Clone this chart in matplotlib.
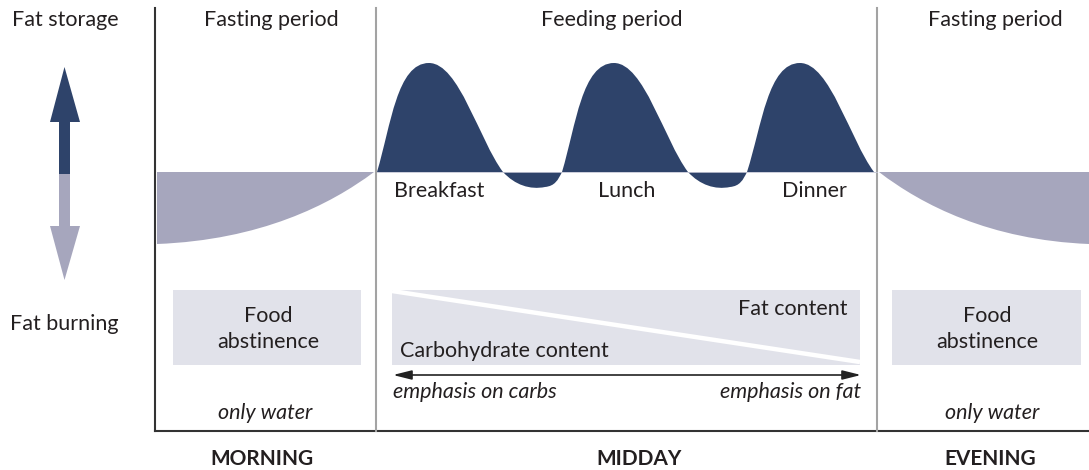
import matplotlib
matplotlib.use("Agg")
import matplotlib.pyplot as plt
from matplotlib.path import Path
from matplotlib.patches import PathPatch, Rectangle

plt.rcParams['font.family'] = ['Lato', 'DejaVu Sans']

NAVY = '#2E436A'
LAVENDER = '#A6A6BD'
BOXGREY = '#E1E2EA'
TEXT = '#231F20'
FS = 15.5

# layout values (pixel grid of the original)
baseline = 172
axis_left, axis_bottom, axis_top = 155, 431, 8
divider_x = [376, 877]

period_titles = ["Fasting period", "Feeding period", "Fasting period"]
period_x = [271, 612, 995]
time_labels = ["MORNING", "MIDDAY", "EVENING"]
time_x = [262, 639, 990]

meals = ["Breakfast", "Lunch", "Dinner"]
meal_start = [377, 562, 748]
meal_label_x = [439, 627, 814]

# one meal cycle: bezier control points (x offset from meal start, y)
rise = [(14, 125), (20, 63), (52, 63)]
fall = [(82, 63), (102, 140), (126, 172)]
dip_down = [(138, 185), (153, 190), (168, 187)]
dip_up = [(178, 186), (181, 180), (185, 172)]

# fasting curves: (start, control1, control2, end)
morning_curve = [(374, 172), (330, 205), (260, 240), (157, 244)]
evening_curve = [(879, 172), (922, 205), (990, 240), (1089, 244)]

abstinence_x = [268, 987]
abstinence_box = [(173, 361), (892, 1081)]
water_x = [265, 992]
box_top, box_bottom = 290, 365
diet_box = (392, 860)
diet_split = [(392, 291), (860, 362)]

# left scale arrow
up_head = [(50, 122), (64.5, 67), (80, 122)]
down_head = [(50, 226), (64.5, 280), (80, 226)]
shaft = (59, 70)
shaft_mid = 174

fig = plt.figure(figsize=(10.89, 4.70), dpi=100)
ax = fig.add_axes([0, 0, 1, 1])
ax.set_xlim(0, 1089)
ax.set_ylim(470, 0)
ax.axis('off')

# frame lines
ax.plot([axis_left, axis_left], [axis_top, axis_bottom], color='#333333', lw=1.5)
ax.plot([axis_left, 1089], [axis_bottom, axis_bottom], color='#333333', lw=1.5)
for dx in divider_x:
    ax.plot([dx, dx], [axis_top, axis_bottom], color='#A3A3A3', lw=1.5)

# fasting areas
for c in (morning_curve, evening_curve):
    verts = [c[0], c[1], c[2], c[3], (c[3][0], baseline), c[0]]
    codes = [Path.MOVETO, Path.CURVE4, Path.CURVE4, Path.CURVE4, Path.LINETO, Path.CLOSEPOLY]
    ax.add_patch(PathPatch(Path(verts, codes), fc=LAVENDER, ec='none'))

# meal curve
verts = [(meal_start[0], baseline)]
codes = [Path.MOVETO]
for i, x0 in enumerate(meal_start):
    segs = [rise, fall] if i == len(meal_start) - 1 else [rise, fall, dip_down, dip_up]
    for seg in segs:
        for (dx, y) in seg:
            verts.append((x0 + dx, y))
            codes.append(Path.CURVE4)
verts.append((divider_x[1], baseline))
codes.append(Path.LINETO)
verts.append((meal_start[0], baseline))
codes.append(Path.CLOSEPOLY)
ax.add_patch(PathPatch(Path(verts, codes), fc=NAVY, ec='none'))
ax.plot([meal_start[0], divider_x[1]], [baseline, baseline], color='#C3C5D4', lw=0.6)

for name, x in zip(meals, meal_label_x):
    ax.text(x, 197, name, ha='center', va='baseline', fontsize=FS, color=TEXT)

# left scale arrow
ax.fill([shaft[0], shaft[1], shaft[1], shaft[0]], [up_head[0][1], up_head[0][1], shaft_mid, shaft_mid], color=NAVY, lw=0)
ax.fill([p[0] for p in up_head], [p[1] for p in up_head], color=NAVY, lw=0)
ax.fill([shaft[0], shaft[1], shaft[1], shaft[0]], [shaft_mid, shaft_mid, down_head[0][1], down_head[0][1]], color=LAVENDER, lw=0)
ax.fill([p[0] for p in down_head], [p[1] for p in down_head], color=LAVENDER, lw=0)
ax.text(12, 26, "Fat storage", ha='left', va='baseline', fontsize=FS, color=TEXT)
ax.text(10, 330, "Fat burning", ha='left', va='baseline', fontsize=FS, color=TEXT)

# period titles and time labels
for t, x in zip(period_titles, period_x):
    ax.text(x, 26, t, ha='center', va='baseline', fontsize=FS, color=TEXT)
for t, x in zip(time_labels, time_x):
    ax.text(x, 465, t, ha='center', va='baseline', fontsize=15, fontweight='bold', color=TEXT)

# abstinence boxes
for (x1, x2), xc, xw in zip(abstinence_box, abstinence_x, water_x):
    ax.add_patch(Rectangle((x1, box_top), x2 - x1, box_bottom - box_top, fc=BOXGREY, ec='none'))
    ax.text(xc, 322, "Food", ha='center', va='baseline', fontsize=FS, color=TEXT)
    ax.text(xc, 348, "abstinence", ha='center', va='baseline', fontsize=FS, color=TEXT)
    ax.text(xw, 419, "only water", ha='center', va='baseline', fontsize=FS, style='italic', color=TEXT)

# diet composition box
ax.add_patch(Rectangle((diet_box[0], box_top), diet_box[1] - diet_box[0], box_bottom - box_top, fc=BOXGREY, ec='none'))
ax.plot([diet_split[0][0], diet_split[1][0]], [diet_split[0][1], diet_split[1][1]], color='white', lw=3.2, solid_capstyle='butt')
ax.text(847, 315, "Fat content", ha='right', va='baseline', fontsize=FS, color=TEXT)
ax.text(400, 357, "Carbohydrate content", ha='left', va='baseline', fontsize=FS, color=TEXT)
ax.annotate('', xy=(861, 375), xytext=(393, 375),
            arrowprops=dict(arrowstyle='<|-|>,head_length=0.8,head_width=0.2', color='#222222', lw=1.2,
                            mutation_scale=14, shrinkA=0, shrinkB=0))
ax.text(393, 398, "emphasis on carbs", ha='left', va='baseline', fontsize=FS, style='italic', color=TEXT)
ax.text(861, 398, "emphasis on fat", ha='right', va='baseline', fontsize=FS, style='italic', color=TEXT)

fig.savefig('out.png', dpi=100)
